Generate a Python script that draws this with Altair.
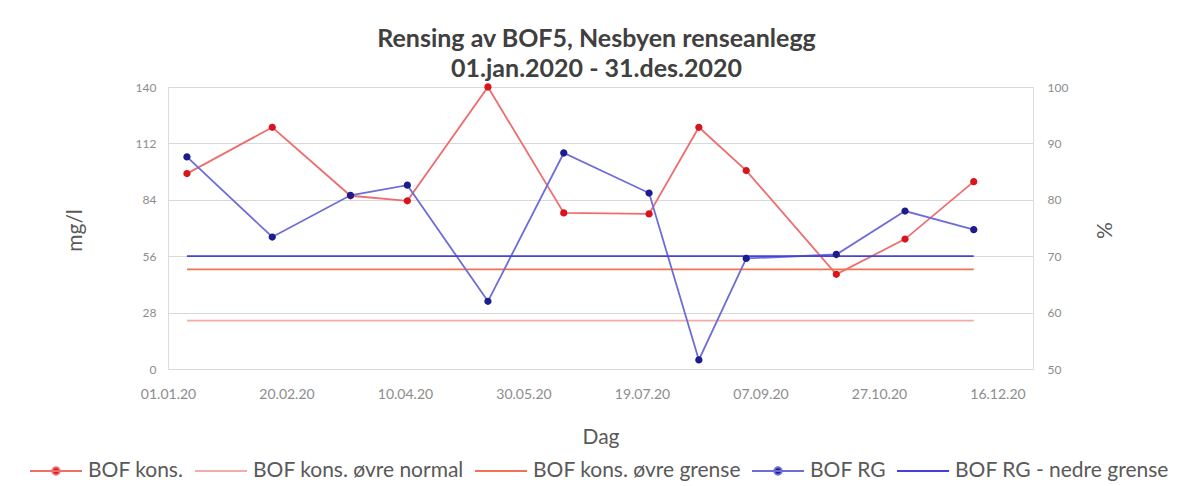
import altair as alt
import pandas as pd

# ---- data ----
dates = ["2020-01-09", "2020-02-14", "2020-03-18", "2020-04-11", "2020-05-15", "2020-06-16",
         "2020-07-22", "2020-08-12", "2020-09-01", "2020-10-09", "2020-11-07", "2020-12-06"]
bof_kons = [97, 120, 86, 83.5, 140, 77.5, 77, 120, 98.5, 47, 64.5, 93]          # mg/l
bof_rg = [87.6, 73.4, 80.8, 82.6, 62, 88.3, 81.2, 51.6, 69.6, 70.3, 78, 74.7]   # %
kons_normal = 24     # mg/l
kons_grense = 49.5   # mg/l
rg_nedre = 70        # %

series_names = ["BOF kons.", "BOF kons. øvre normal", "BOF kons. øvre grense",
                "BOF RG", "BOF RG - nedre grense"]
series_colors = ["#ee6e6e", "#f4aca6", "#f2734f", "#6d6dd8", "#4444d4"]
dot_colors = ["#d8141c", "transparent", "transparent", "#1c1c8c", "transparent"]
DOT = "M-1,0L1,0M-0.14,0A0.14,0.14,0,1,1,0.14,0A0.14,0.14,0,1,1,-0.14,0Z"
series_shapes = [DOT, "stroke", "stroke", DOT, "stroke"]
x_tick_dates = ["2020-01-01", "2020-02-20", "2020-04-10", "2020-05-30",
                "2020-07-19", "2020-09-07", "2020-10-27", "2020-12-16"]
left_ticks = [0, 28, 56, 84, 112, 140]
right_ticks = [50, 60, 70, 80, 90, 100]

FONT = "Lato"

rows = []
for i, d in enumerate(dates):
    rows.append({"date": d, "series": series_names[0], "value": bof_kons[i], "axis": "L"})
    rows.append({"date": d, "series": series_names[1], "value": kons_normal, "axis": "L"})
    rows.append({"date": d, "series": series_names[2], "value": kons_grense, "axis": "L"})
    rows.append({"date": d, "series": series_names[3], "value": bof_rg[i], "axis": "R"})
    rows.append({"date": d, "series": series_names[4], "value": rg_nedre, "axis": "R"})
df = pd.DataFrame(rows)


def dt(s):
    y, m, d = s.split("-")
    return alt.DateTime(year=int(y), month=int(m), date=int(d), utc=True)


x_enc = alt.X(
    "date:T",
    scale=alt.Scale(type="utc", domain=[dt("2020-01-01"), dt("2020-12-31")]),
    axis=alt.Axis(
        values=[dt(s) for s in x_tick_dates],
        labelExpr="utcFormat(datum.value, '%d.%m.%y')",
        labelFontSize=14, labelColor="#8c8c8c", labelPadding=18, labelFont=FONT,
        labelFlush=False, labelOverlap=False,
        domain=False, ticks=False, grid=False,
        title="Dag", titleFontSize=21, titleColor="#595959", titleFontWeight="normal",
        titleFont=FONT, titleY=68, titleBaseline="middle",
    ),
)

legend = alt.Legend(
    orient="none", legendX=-139, legendY=357, direction="horizontal", columns=5,
    title=None, symbolSize=2704, symbolStrokeWidth=2,
    labelFontSize=21, labelColor="#595959", labelFont=FONT, labelOffset=5,
    columnPadding=7, labelLimit=400,
)

color_enc = alt.Color("series:N", scale=alt.Scale(domain=series_names, range=series_colors),
                      legend=legend)
fill_enc = alt.Fill("series:N", scale=alt.Scale(domain=series_names, range=dot_colors),
                    legend=legend)
shape_enc = alt.Shape("series:N", scale=alt.Scale(domain=series_names, range=series_shapes),
                      legend=legend)

y_left = alt.Y(
    "value:Q",
    scale=alt.Scale(domain=[0, 140], nice=False, zero=False),
    axis=alt.Axis(
        values=left_ticks, orient="left", grid=True, gridColor="#d9d9d9", gridWidth=1,
        domain=False, ticks=False, labelFontSize=12, labelColor="#8c8c8c", labelPadding=12,
        labelFont=FONT, title="mg/l", titleFontSize=21, titleColor="#595959",
        titleFontWeight="normal", titleFont=FONT, titleAngle=-90, titleX=-93, titleY=143,
        titleBaseline="middle", titleAlign="center",
    ),
)
y_right = alt.Y(
    "value:Q",
    scale=alt.Scale(domain=[50, 100], nice=False, zero=False),
    axis=alt.Axis(
        values=right_ticks, orient="right", grid=False,
        domain=False, ticks=False, labelFontSize=12, labelColor="#8c8c8c", labelPadding=14,
        labelFont=FONT, title="%", titleFontSize=21, titleColor="#595959",
        titleFontWeight="normal", titleFont=FONT, titleAngle=-90, titleX=72, titleY=143,
        titleBaseline="middle", titleAlign="center",
    ),
)

base = alt.Chart(df)

lines_left = base.transform_filter(alt.datum.axis == "L").mark_line(strokeWidth=1.8).encode(
    x=x_enc, y=y_left, color=color_enc, detail="series:N")
dots_left = base.transform_filter(alt.datum.series == series_names[0]).mark_point(
    filled=True, size=2704, opacity=1).encode(x=x_enc, y=y_left, fill=fill_enc, shape=shape_enc)
left = alt.layer(lines_left, dots_left)

lines_right = base.transform_filter(alt.datum.axis == "R").mark_line(strokeWidth=1.8).encode(
    x=x_enc, y=y_right, color=color_enc, detail="series:N")
dots_right = base.transform_filter(alt.datum.series == series_names[3]).mark_point(
    filled=True, size=2704, opacity=1).encode(x=x_enc, y=y_right, fill=fill_enc, shape=shape_enc)
right = alt.layer(lines_right, dots_right)

chart = alt.layer(left, right).resolve_scale(y="independent").properties(
    width=865, height=282,
    autosize=alt.AutoSizeParams(type="none"),
    padding={"left": 160, "top": 79, "right": 143, "bottom": 117},
    title=alt.TitleParams(
        text=["Rensing av BOF5, Nesbyen renseanlegg", "01.jan.2020 - 31.des.2020"],
        fontSize=25, font=FONT, fontWeight="bold", color="#404040",
        anchor="middle", frame="group", baseline="bottom", offset=10, lineHeight=30,
        dx=-4, dy=36,
    ),
).configure_view(stroke=None).configure(background="white")

chart.save("out.html", embed_options={"renderer": "svg", "actions": False})
